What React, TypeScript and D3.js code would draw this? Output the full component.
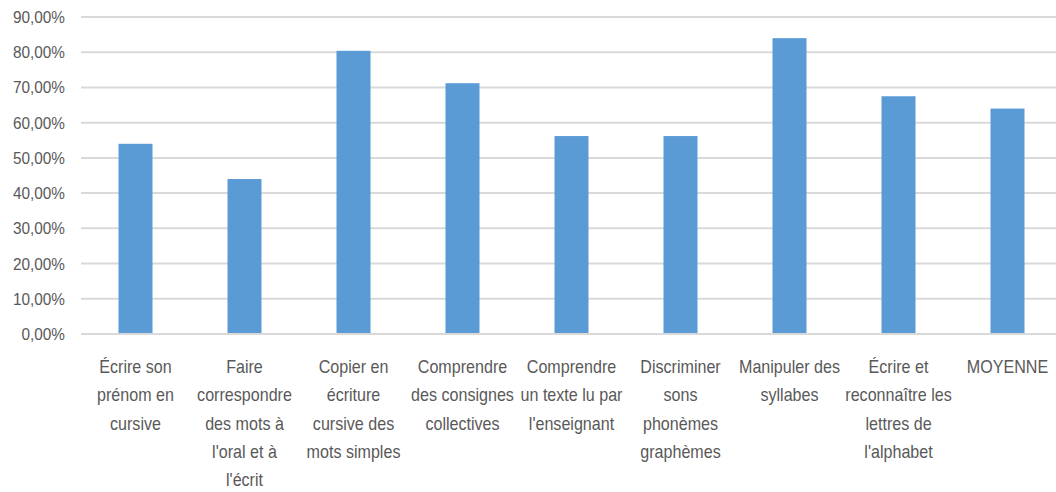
import React from "react";
import * as d3 from "d3";

const categories: string[][] = [
  ["Écrire son", "prénom en", "cursive"],
  ["Faire", "correspondre", "des mots à", "l'oral et à", "l'écrit"],
  ["Copier en", "écriture", "cursive des", "mots simples"],
  ["Comprendre", "des consignes", "collectives"],
  ["Comprendre", "un texte lu par", "l'enseignant"],
  ["Discriminer", "sons", "phonèmes", "graphèmes"],
  ["Manipuler des", "syllabes"],
  ["Écrire et", "reconnaître les", "lettres de", "l'alphabet"],
  ["MOYENNE"],
];
const values: number[] = [0.54, 0.44, 0.804, 0.712, 0.562, 0.562, 0.84, 0.675, 0.64];
const yTicks: number[] = [0, 0.1, 0.2, 0.3, 0.4, 0.5, 0.6, 0.7, 0.8, 0.9];

const W = 1056;
const H = 492;

export default function App() {
  const x = d3
    .scaleBand<number>()
    .domain(categories.map((_, i) => i))
    .range([81, 1062])
    .padding(0);
  const y = d3.scaleLinear().domain([0, 0.9]).range([334, 17]);
  const barW = x.step() * 0.312;
  const fmt = (v: number) => (v * 100).toFixed(2).replace(".", ",") + "%";
  const font = "'Liberation Sans', Arial, sans-serif";
  const color = "#595959";

  return (
    <svg
      width={W}
      height={H}
      style={{ position: "absolute", left: 0, top: 0, background: "#fff" }}
    >
      {yTicks.map((t) => (
        <g key={t}>
          <line x1={81} x2={W} y1={y(t)} y2={y(t)} stroke="#d9d9d9" strokeWidth={2} />
          <text
            transform={`translate(65,${y(t) + 6}) scale(0.93,1)`}
            textAnchor="end"
            fontFamily={font}
            fontSize={16.5}
            fill={color}
          >
            {fmt(t)}
          </text>
        </g>
      ))}
      {values.map((v, i) => {
        const cx = (x(i) as number) + x.step() / 2;
        return (
          <rect
            key={i}
            x={cx - barW / 2}
            y={y(v)}
            width={barW}
            height={y(0) - y(v) - 1}
            fill="#5b9bd5"
          />
        );
      })}
      {categories.map((lines, i) => {
        const cx = (x(i) as number) + x.step() / 2;
        return (
          <g key={i}>
            {lines.map((ln, j) => (
              <text
                key={j}
                transform={`translate(${cx},${373 + j * 28.3}) scale(0.92,1)`}
                textAnchor="middle"
                fontFamily={font}
                fontSize={17.5}
                fill={color}
              >
                {ln}
              </text>
            ))}
          </g>
        );
      })}
    </svg>
  );
}
